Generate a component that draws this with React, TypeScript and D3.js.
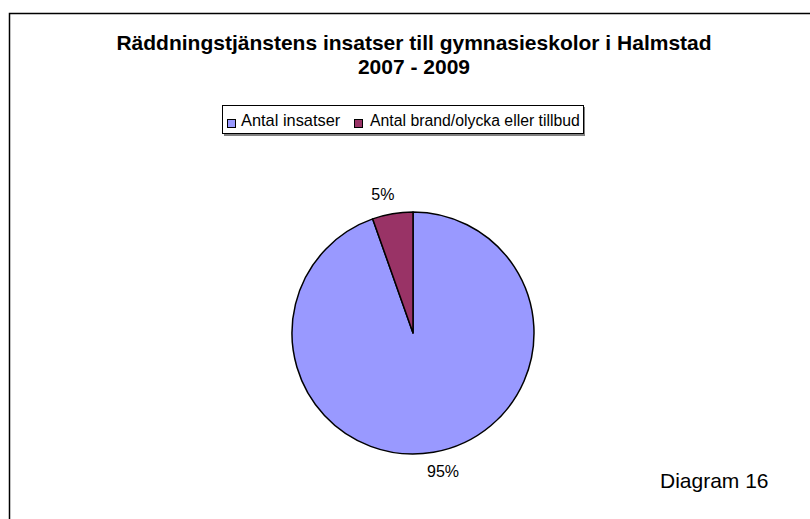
import React from "react";
import * as d3 from "d3";

const categories = ["Antal insatser", "Antal brand/olycka eller tillbud"];
const values = [35, 2];
const colors = ["#9999FF", "#993366"];
const titleLines = ["Räddningstjänstens insatser till gymnasieskolor i Halmstad", "2007 - 2009"];
const footnote = "Diagram 16";

const W = 810;
const H = 519;
const cx = 413;
const cy = 333;
const R = 121;
const FONT = "'Liberation Sans', Arial, sans-serif";

export default function App() {
  const pie = d3.pie<number>().sort(null).value((d) => d)(values);
  const arc = d3.arc<d3.PieArcDatum<number>>().innerRadius(0).outerRadius(R);
  const total = d3.sum(values);
  const fmt = (v: number) => `${Math.round((v / total) * 100)}%`;
  const labelR = 142;
  const shift = (-2.5 * Math.PI) / 180;

  const legendItems = [
    { sq: 227, tx: 241, fs: 16.4 },
    { sq: 354, tx: 370, fs: 15.8 },
  ];

  return (
    <svg width={W} height={H} style={{ position: "absolute", left: 0, top: 0, background: "#fff" }} fontFamily={FONT}>
      <rect x={0} y={0} width={W} height={H} fill="#fff" />
      <rect x={9.5} y={13.5} width={W + 50} height={H + 50} fill="none" stroke="#000" strokeWidth={1.5} />
      {titleLines.map((t, i) => (
        <text key={i} x={414} y={50 + i * 24} textAnchor="middle" fontWeight="bold" fontSize={21} fill="#000">
          {t}
        </text>
      ))}
      {/* legend */}
      <rect x={224} y={107} width={361} height={29} fill="#808080" />
      <rect x={222.5} y={105.5} width={361} height={28} fill="#fff" stroke="#000" strokeWidth={1} />
      {categories.map((c, i) => (
        <g key={c}>
          <rect x={legendItems[i].sq + 0.5} y={119.5} width={8} height={8} fill={colors[i]} stroke="#000" strokeWidth={1} />
          <text x={legendItems[i].tx} y={126} fontSize={legendItems[i].fs} fill="#000">
            {c}
          </text>
        </g>
      ))}
      <g transform={`translate(${cx},${cy})`}>
        {pie.map((p, i) => (
          <path key={i} d={arc(p) || ""} fill={colors[i]} stroke="#000" strokeWidth={1.5} strokeLinejoin="round" />
        ))}
        {pie.map((p, i) => {
          const a = (p.startAngle + p.endAngle) / 2 + shift;
          const x = Math.sin(a) * labelR;
          const y = -Math.cos(a) * labelR;
          return (
            <text key={"l" + i} x={x} y={y} textAnchor="middle" dominantBaseline="central" fontSize={16} fill="#000">
              {fmt(p.value)}
            </text>
          );
        })}
      </g>
      <text x={660} y={488} fontSize={21} fill="#000">
        {footnote}
      </text>
    </svg>
  );
}
